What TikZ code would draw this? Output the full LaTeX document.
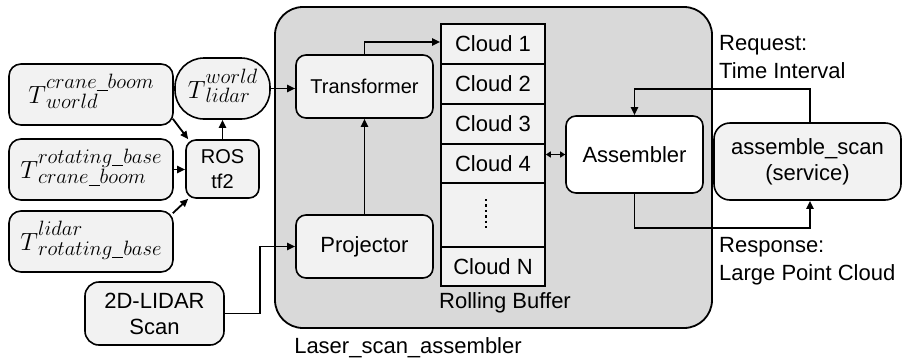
\documentclass[tikz,border=0pt]{standalone}
\usepackage{fontspec}
\setmainfont{Liberation Sans}
\usetikzlibrary{arrows.meta,calc}
\definecolor{panel}{HTML}{D9D9D9}
\definecolor{boxfill}{HTML}{F2F2F2}
% low underscore used inside the frame names
\newcommand\us{\mbox{\rule[-2.5pt]{0.5em}{1.1pt}}}
% transform symbol T^{sup}_{sub} with large stacked scripts
\newcommand\tfbig[2]{\raisebox{5pt}{\fontsize{42}{42}\selectfont$T$}\fontsize{22}{20}\selectfont\begin{tabular}[b]{@{}l@{}}$#1$\\$#2$\end{tabular}}
\newcommand\tfsmall[2]{\raisebox{4pt}{\fontsize{32}{32}\selectfont$T$}\fontsize{21}{17}\selectfont\begin{tabular}[b]{@{}l@{}}$#1$\\$#2$\end{tabular}}
\tikzset{
  box/.style={draw, line width=1.6pt, fill=boxfill, rounded corners=10pt, align=center,
    inner sep=0pt, font=\fontsize{22}{26}\selectfont},
  cell/.style={draw, line width=1.6pt, fill=boxfill, minimum width=104pt, inner sep=0pt,
    font=\fontsize{22}{26}\selectfont},
  plain/.style={inner sep=0pt, align=left, font=\fontsize{22}{28}\selectfont},
  arr/.style={-{Triangle[length=8pt,width=7pt]}, line width=1.8pt},
}
\begin{document}
\begin{tikzpicture}[x=1pt,y=-1pt]
\useasboundingbox (0,0) rectangle (903,362);

% laser_scan_assembler container
\node[draw, line width=1.8pt, fill=panel, rounded corners=28pt, minimum width=437pt,
  minimum height=321pt] (lsa) at (493.5,167.5) {};
\node[plain] (lsalabel) at (408,348) {Laser\_scan\_assembler};

% static transforms
\node[box, rounded corners=12pt, minimum width=164pt, minimum height=61pt] (T1) at (91,94.5) {\tfbig{crane\us boom}{world}};
\node[box, rounded corners=12pt, minimum width=164pt, minimum height=61pt] (T2) at (91,169.5) {\tfbig{rotating\us base}{crane\us boom}};
\node[box, rounded corners=12pt, minimum width=164pt, minimum height=61pt] (T3) at (91,241.5) {\tfbig{lidar}{rotating\us base}};
\node[box, font=\fontsize{20}{25}\selectfont, minimum width=73pt, minimum height=58pt] (ros) at (222.5,169) {ROS\\tf2};
\node[box, rounded corners=29pt, minimum width=95pt, minimum height=61pt] (Tw) at (222.5,88.5) {\tfsmall{world}{lidar}};

% scan input
\node[box, rounded corners=14pt, minimum width=139pt, minimum height=63pt] (lidar) at (154.5,313.5) {2D-LIDAR\\Scan};

% processing nodes
\node[box, font=\fontsize{20}{24}\selectfont, minimum width=137pt, minimum height=63pt] (tr) at (364.5,86.5) {Transformer};
\node[box, minimum width=137pt, minimum height=63pt] (pr) at (364.5,246.5) {Projector};

% rolling buffer
\node[cell, minimum height=40pt] (c1) at (493,44) {Cloud 1};
\node[cell, minimum height=40pt] (c2) at (493,84) {Cloud 2};
\node[cell, minimum height=40pt] (c3) at (493,124) {Cloud 3};
\node[cell, minimum height=39pt] (c4) at (493,163.5) {Cloud 4};
\node[cell, minimum height=64pt] (cd) at (493,215) {};
\node[cell, minimum height=39pt] (cn) at (493,266.5) {Cloud N};
\draw[line width=2.4pt, dash pattern=on 2.4pt off 3pt] ([xshift=-7pt,yshift=16pt]cd.center) -- ([xshift=-7pt,yshift=-16pt]cd.center);
\node[plain] (rb) at (505,303) {Rolling Buffer};

% assembler and service
\node[box, fill=white, minimum width=137pt, minimum height=77pt] (asm) at (634.5,154.5) {Assembler};
\node[box, rounded corners=16pt, minimum width=187pt, minimum height=77pt] (svc) at (807.5,161.5) {assemble\_scan\\(service)};
\node[plain, anchor=west] (req) at (719,57) {Request:\\Time Interval};
\node[plain, anchor=west] (resp) at (719,261) {Response:\\Large Point Cloud};

% connectors
\draw[arr] ([xshift=-1pt,yshift=7pt]T1.south east) -- ([xshift=3pt]ros.north west);
\draw[arr] (T2.east) -- (T2.east -| ros.west);
\draw[arr] ([xshift=-1pt,yshift=-3pt]T3.north east) -- ([xshift=3pt]ros.south west);
\draw[arr] (ros.north) -- (Tw.south);
\draw[arr] (Tw.east) -- (Tw.east -| tr.west);
\draw[arr] (tr.north) |- ([yshift=2pt]c1.west);
\draw[arr] (pr.north) -- (tr.south);
\draw[arr] (lidar.east) -- ++(35,0) |- (pr.west);
\draw[{Triangle[length=5pt,width=6pt]}-{Triangle[length=5pt,width=6pt]}, line width=1.6pt]
  (asm.west -| c4.east) -- (asm.west);
\draw[arr] ([xshift=2.5pt]svc.north) -- ++(0,-33) -| (asm.north);
\draw[arr] (asm.south) -- ++(0,34) -| ([xshift=2.5pt]svc.south);
\end{tikzpicture}
\end{document}
